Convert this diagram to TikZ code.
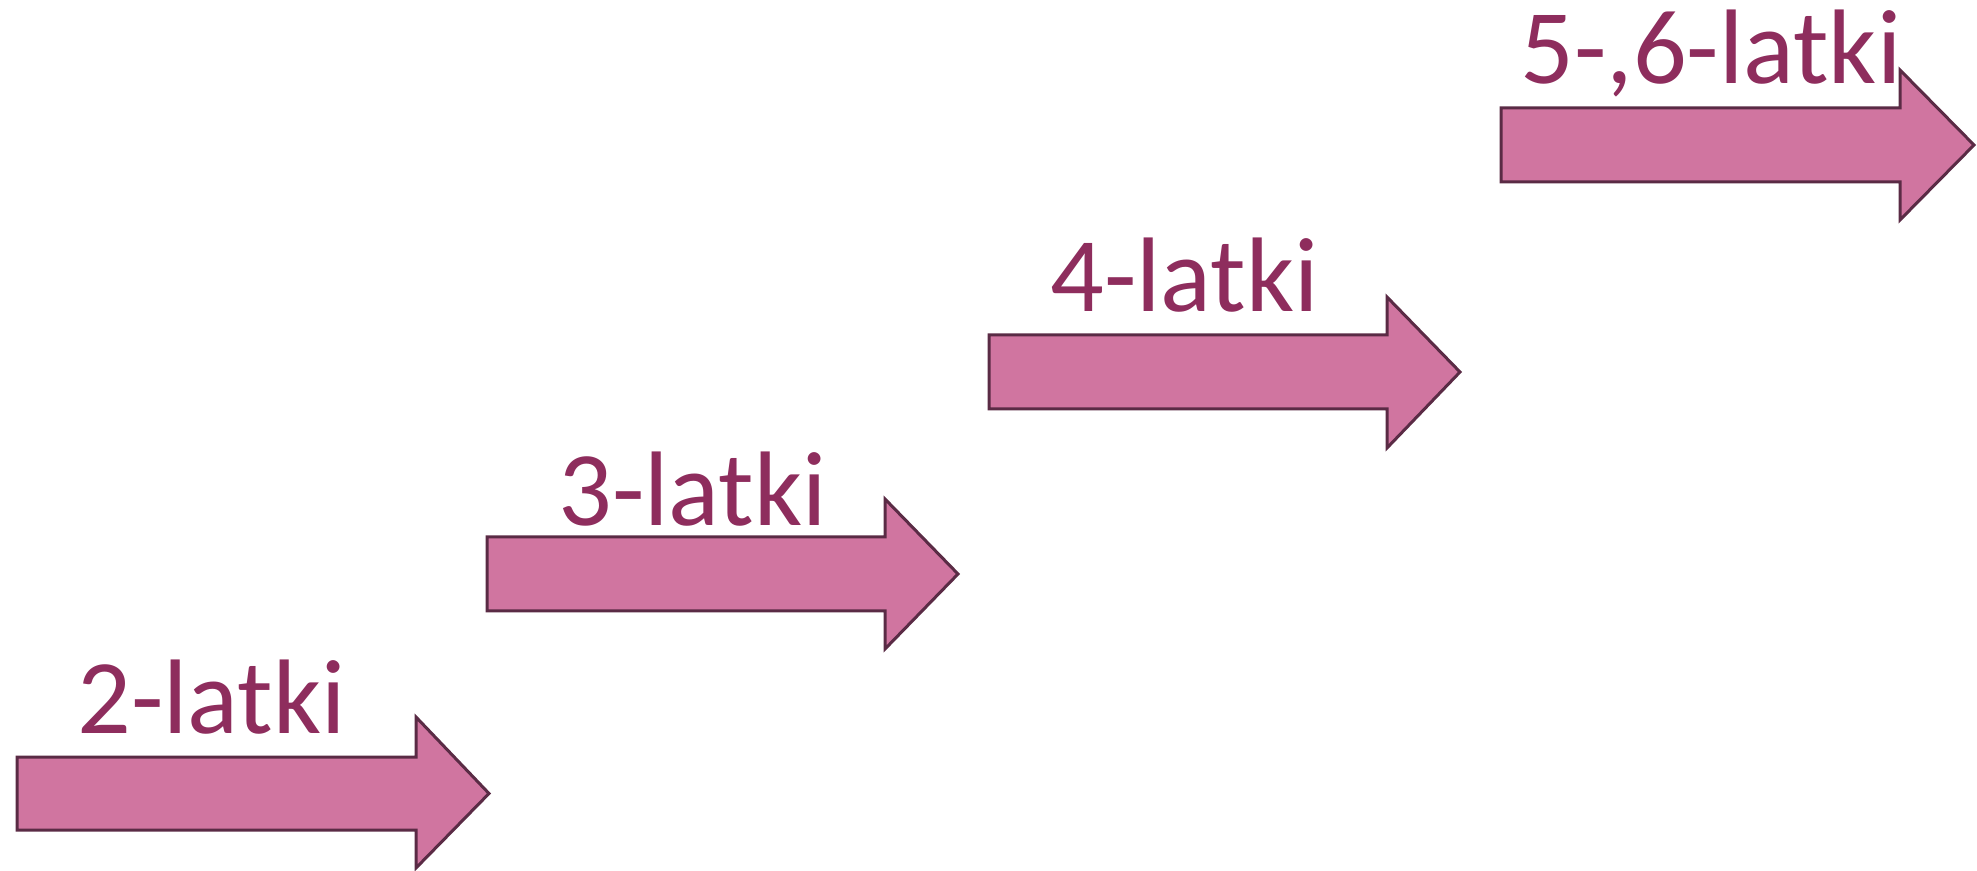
\documentclass[tikz,border=0pt]{standalone}
\usepackage{fontspec}
\setmainfont{Carlito}
\usepackage{xcolor}
\definecolor{arrowfill}{HTML}{D075A0}
\definecolor{arrowline}{HTML}{5A2B45}
\definecolor{labeltext}{HTML}{8E2D5D}

\begin{document}
\begin{tikzpicture}[x=0.5pt, y=-0.5pt,
    agearrow/.style={fill=arrowfill, draw=arrowline, line width=1.5pt, line join=miter},
    agelabel/.style={anchor=base west, inner sep=0pt, text=labeltext,
        font=\fontsize{53}{60}\selectfont}]

    \useasboundingbox (0,0) rectangle (1977,871);

    % arrows, bottom left to top right
    \draw[agearrow] (17,757) -- (416,757) -- (416,717) -- (489,793.5)
        -- (416,868) -- (416,830) -- (17,830) -- cycle;
    \draw[agearrow] (487,537) -- (885,537) -- (885,499) -- (958,574)
        -- (885,649) -- (885,611) -- (487,611) -- cycle;
    \draw[agearrow] (989,335) -- (1387,335) -- (1387,297) -- (1460,372)
        -- (1387,448) -- (1387,409) -- (989,409) -- cycle;
    \draw[agearrow] (1501,108) -- (1900,108) -- (1900,70) -- (1974,145)
        -- (1900,220) -- (1900,182) -- (1501,182) -- cycle;

    % labels
    \node[agelabel] (two) at (77,733) {2-latki};
    \node[agelabel] (three) at (558,526) {3-latki};
    \node[agelabel] (four) at (1050,312) {4-latki};
    \node[agelabel] (five) at (1520,84) {5-,6-latki};

\end{tikzpicture}
\end{document}
